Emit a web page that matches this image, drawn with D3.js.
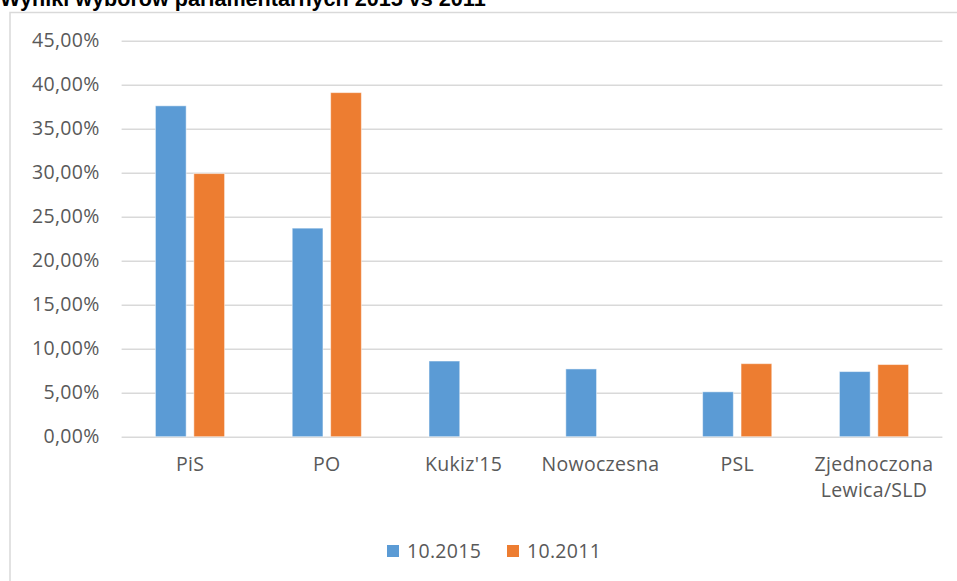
<!DOCTYPE html>
<html>
<head>
<meta charset="utf-8">
<script src="https://cdn.jsdelivr.net/npm/d3@7"></script>
<style>
  body { margin: 0; background: #fff; }
  svg { display: block; }
  .tick text { fill: #595959; }
</style>
</head>
<body>
<svg id="chart" width="957" height="581"></svg>
<script>
const categories = ["PiS", "PO", "Kukiz'15", "Nowoczesna", "PSL", "Zjednoczona Lewica/SLD"];
const series = ["10.2015", "10.2011"];
const v2015 = [37.6, 23.7, 8.6, 7.7, 5.1, 7.4];
const v2011 = [29.9, 39.1, 0, 0, 8.3, 8.2];
const yTicks = [0, 5, 10, 15, 20, 25, 30, 35, 40, 45];
const colors = ["#5b9bd5", "#ed7d31"];

const svg = d3.select("#chart");
const fontFamily = "'Open Sans', 'Noto Sans', sans-serif";
const fontSize = 19.5;

// title, cut off at the top like the original
svg.append("text")
  .attr("x", 0).attr("y", 6)
  .attr("font-family", "'Liberation Sans', Arial, sans-serif")
  .attr("font-weight", "bold")
  .attr("font-size", 21.6)
  .attr("fill", "#000")
  .text("Wyniki wyborów parlamentarnych 2015 vs 2011");

// chart frame
svg.append("rect")
  .attr("x", 10).attr("y", 12.5)
  .attr("width", 1000).attr("height", 700)
  .attr("fill", "none")
  .attr("stroke", "#d9d9d9")
  .attr("stroke-width", 1.5);

const left = 121.6, right = 942.4;
const x = d3.scaleBand().domain(categories).range([left, right]);
const x1 = d3.scaleBand().domain(series).range([0, x.bandwidth()])
  .paddingInner(0.2).paddingOuter(0.88);
const y = d3.scaleLinear().domain([0, 45]).range([436.7, 40.7]);

const pl = d3.formatLocale({ decimal: ",", thousands: " ", grouping: [3], currency: ["", " zł"] });
const fmt = pl.format(".2f");

const yAxis = svg.append("g")
  .attr("transform", `translate(${left},0)`)
  .call(d3.axisLeft(y).tickValues(yTicks)
    .tickSize(-(right - left)).tickPadding(22)
    .tickFormat(d => fmt(d) + "%"));
yAxis.select(".domain").remove();
yAxis.selectAll(".tick line").attr("stroke", "#d9d9d9").attr("stroke-width", 1.5);
yAxis.selectAll(".tick text")
  .attr("font-family", fontFamily).attr("font-size", fontSize)
  .attr("letter-spacing", 0.3);

// bars
const rows = categories.map((c, i) => ({ cat: c, vals: [v2015[i], v2011[i]] }));
const groups = svg.append("g").selectAll("g")
  .data(rows).join("g")
  .attr("transform", d => `translate(${x(d.cat)},0)`);

groups.selectAll("rect")
  .data(d => d.vals.map((v, j) => ({ key: series[j], v, j })).filter(e => e.v > 0))
  .join("rect")
  .attr("x", d => x1(d.key))
  .attr("width", x1.bandwidth())
  .attr("y", d => y(d.v))
  .attr("height", d => y(0) - y(d.v))
  .attr("fill", d => colors[d.j])
  .attr("stroke", "#fff")
  .attr("stroke-opacity", 0.5)
  .attr("stroke-width", 1);

// category axis
const xAxis = svg.append("g")
  .attr("transform", `translate(0,${y(0)})`)
  .call(d3.axisBottom(x).tickSize(0).tickPadding(20));
xAxis.select(".domain").remove();
xAxis.selectAll(".tick text")
  .attr("font-family", fontFamily).attr("font-size", fontSize)
  .attr("letter-spacing", 0.3)
  .each(function (d) {
    const t = d3.select(this);
    if (this.getComputedTextLength() > x.bandwidth() - 8) {
      const words = d.split(" ");
      t.text(null);
      words.forEach((w, i) => {
        t.append("tspan").attr("x", 0).attr("dy", i === 0 ? "0.71em" : "1.35em").text(w);
      });
    }
  });

// legend
const legend = svg.append("g").attr("transform", "translate(387,545)");
const legX = [0, 120];
series.forEach((s, i) => {
  const g = legend.append("g").attr("transform", `translate(${legX[i]},0)`);
  g.append("rect").attr("width", 12).attr("height", 12).attr("fill", colors[i]);
  g.append("text")
    .attr("x", 20).attr("y", 6).attr("dy", "0.35em")
    .attr("font-family", fontFamily).attr("font-size", fontSize)
    .attr("letter-spacing", 0.3)
    .attr("fill", "#595959")
    .text(s);
});
</script>
</body>
</html>
